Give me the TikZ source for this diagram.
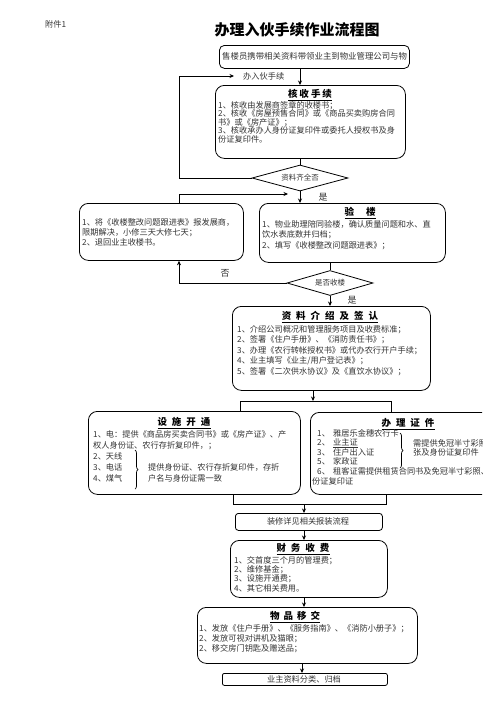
\documentclass[tikz,border=0pt]{standalone}
\usepackage{fontspec}
\setmainfont{Noto Sans CJK SC}
\usetikzlibrary{shapes.geometric,arrows.meta,decorations.pathreplacing}
\newcommand\gp[1]{\hspace{#1pt}}
\newcommand\nb[1]{\makebox[16pt][l]{#1}}
\begin{document}
\begin{tikzpicture}[x=1pt,y=-1pt,
  rbox/.style={draw, line width=0.8pt, rounded corners=9pt, inner sep=0pt, anchor=north west},
  sbox/.style={draw, line width=0.8pt, rounded corners=3pt, inner sep=0pt, anchor=north west},
  dia/.style={draw, diamond, line width=0.8pt, inner sep=0pt},
  txt/.style={font=\fontsize{8.2}{#1}\selectfont, align=left, anchor=north west, inner sep=0pt, text=black!80},
  ttl/.style={font=\fontsize{9.5}{10}\selectfont\bfseries, inner sep=0pt, anchor=center, text=black},
  lbl/.style={font=\fontsize{8.2}{9}\selectfont, inner sep=0pt, text=black!80},
  arr/.style={-{Stealth[length=4.5pt,width=4pt]}, line width=0.8pt},
  ln/.style={line width=0.8pt}]
\useasboundingbox (0,0) rectangle (496,702);
\fill[white] (0,0) rectangle (496,702);

% lanes
\coordinate (L1) at (300,0);
\coordinate (L2) at (330,0);
\coordinate (L3) at (313,0);
\coordinate (L4) at (304,0);
\coordinate (L5) at (302,0);
\coordinate (LL) at (179,0);
\coordinate (LA) at (240,0);
\coordinate (LB) at (391,0);
\coordinate (LC) at (233,0);
\coordinate (LD) at (386,0);
\coordinate (m1) at (288,194);
\coordinate (j1) at (313,401);
\coordinate (j2) at (304,504);

% header
\node[lbl, anchor=west] (fj) at (45,24) {附件1};
\node[font=\fontsize{15}{15}\selectfont\bfseries, inner sep=0pt] (title) at (297,30) {办理入伙手续作业流程图};

% box 1
\node[sbox, rounded corners=5pt, minimum width=190pt, minimum height=23pt] (b1) at (219,45) {};
\node[font=\fontsize{8.4}{9}\selectfont, inner sep=0pt, anchor=west, text=black!80] (t0) at (222,56) {售楼员携带相关资料带领业主到物业管理公司与物};
\node[lbl, anchor=west] (t1) at (243,76) {办入伙手续};

% box 2
\node[rbox, minimum width=190pt, minimum height=73pt] (b2) at (215,85) {};
\node[ttl] (b2t) at (310,95) {\underline{核\gp{2}收\gp{2}手\gp{2}续}};
\node[txt=8.5] (b2x) at (218,101) {1、核收由发展商签章的收楼书；\\
2、核收《房屋预售合同》或《商品买卖购房合同\\
书》或《房产证》；\\
3、核收承办人身份证复印件或委托人授权书及身\\
份证复印件。};

% diamond 1
\node[dia, minimum width=96pt, minimum height=26pt] (d1) at (300,178) {};
\node[font=\fontsize{7.5}{8}\selectfont, inner sep=0pt, text=black!80] (d1t) at (d1.center) {资料齐全否};

% left box
\node[rbox, minimum width=164pt, minimum height=57pt] (b3) at (79,203) {};
\node[txt=10] (b3x) at (82,218) {1、将《收楼整改问题跟进表》报发展商，\\
限期解决，小修三天大修七天；\\
2、退回业主收楼书。};

% right box 验楼
\node[rbox, minimum width=186pt, minimum height=59pt] (b4) at (259,203) {};
\node[ttl] (b4t) at (360,213) {\underline{验\gp{12}楼}};
\node[txt=10.5] (b4x) at (262,220) {1、物业助理陪同验楼，确认质量问题和水、直\\
饮水表底数并归档；\\
2、填写《收楼整改问题跟进表》；};

% diamond 2
\node[dia, minimum width=86pt, minimum height=25pt] (d2) at (330,283) {};
\node[font=\fontsize{7.5}{8}\selectfont, inner sep=0pt, text=black!80] (d2t) at (d2.center) {是否收楼};

% labels
\node[font=\fontsize{9}{9}\selectfont, inner sep=0pt, text=black!80] (y1) at (323,197) {是};
\node[font=\fontsize{9}{9}\selectfont, inner sep=0pt, text=black!80] (n1) at (225,273) {否};
\node[font=\fontsize{9}{9}\selectfont, inner sep=0pt, text=black!80] (y2) at (352,300) {是};

% box 资料介绍
\node[rbox, minimum width=198pt, minimum height=84pt] (b5) at (232,306) {};
\node[ttl] (b5t) at (330,317) {\underline{资\gp{5}料\gp{5}介\gp{5}绍\gp{5}及\gp{5}签\gp{5}认}};
\node[txt=10.5] (b5x) at (237,325) {1、介绍公司概况和管理服务项目及收费标准；\\
2、签署《住户手册》、《消防责任书》；\\
3、办理《农行转帐授权书》或代办农行开户手续；\\
4、业主填写《业主/用户登记表》；\\
5、签署《二次供水协议》及《直饮水协议》；};

% box 设施开通
\node[rbox, minimum width=212pt, minimum height=83pt] (b6) at (88,411) {};
\node[ttl] (b6t) at (184,423) {\underline{设\gp{5}施\gp{5}开\gp{5}通}};
\node[txt=11] (b6x) at (93,430) {1、电：提供《商品房买卖合同书》或《房产证》、产\\
权人身份证、农行存折复印件，；\\
2、天线\\
3、电话\\
4、煤气};
\draw[ln, line width=0.7pt, decorate, decoration={brace, amplitude=3pt}] (135,450) -- (135,489);
\node[txt=11] (b6y) at (148,463) {提供身份证、农行存折复印件，存折\\
户名与身份证需一致};

% box 办理证件 (cut off at the right, as in the reference)
\begin{scope}
\clip (0,0) rectangle (482,702);
\node[rbox, minimum width=210pt, minimum height=82pt] (b7) at (310,412) {};
\node[ttl] (b7t) at (408,424) {\underline{办\gp{5}理\gp{5}证\gp{5}件}};
\node[txt=9.6] (b7x) at (317,429) {\nb{1、}雅居乐金穗农行卡\\
\nb{2、}\underline{业主证}\\
\nb{3、}住户出入证\\
\nb{5、}家政证\\
\nb{6、}租客证需提供租赁合同书及免冠半寸彩照、身\\
\hspace*{-5pt}份证复印证};
\draw[ln, line width=0.7pt, decorate, decoration={brace, amplitude=3pt}] (400,433) -- (400,468);
\node[txt=9.6] (b7y) at (413,439) {需提供免冠半寸彩照\\
张及身份证复印件};
\end{scope}

% box 装修
\node[sbox, minimum width=147pt, minimum height=17pt] (b8) at (235,513) {};
\node[lbl] (b8t) at (308,521.5) {装修详见相关报装流程};

% box 财务收费
\node[rbox, minimum width=157pt, minimum height=57pt] (b9) at (230,540) {};
\node[ttl] (b9t) at (303,549) {\underline{财\gp{5}务\gp{5}收\gp{5}费}};
\node[txt=9.3] (b9x) at (234,556) {1、交首度三个月的管理费；\\
2、维修基金；\\
3、设施开通费；\\
4、其它相关费用。};

% box 物品移交
\node[rbox, minimum width=220pt, minimum height=56pt] (b10) at (197,607) {};
\node[ttl] (b10t) at (295,617) {\underline{物\gp{4}品\gp{4}移\gp{4}交}};
\node[txt=10] (b10x) at (199,624) {1、发放《住户手册》、《服务指南》、《消防小册子》；\\
2、发放可视对讲机及猫眼；\\
2、移交房门钥匙及赠送品；};

% final box
\node[sbox, rounded corners=2pt, minimum width=165pt, minimum height=12pt] (b11) at (222,673) {};
\node[lbl] (b11t) at (304,679) {业主资料分类、归档};

% connectors
\draw[arr] (b1.south -| L1) -- (b2.north -| L1);
\draw[ln] (b2.south -| L1) -- (d1.north);
\draw[arr] (d1.south) -- (b4.north -| L1);
\draw[arr] (d1.west) -| (t1.west -| LL) -- ([xshift=-9pt]t1.west);
\draw[arr] (b3.north -| LL) |- (m1);
\draw[ln] (b4.south -| L2) -- (d2.north);
\draw[arr] (d2.west) -| (b3.south -| LL);
\draw[arr] (d2.south) -- (b5.north -| L2);
\draw[arr] (b5.south -| L3) -- (j1);
\draw[ln] (b6.north -| LA) -- (LA |- j1) -- (LB |- j1) -- (b7.north -| LB);
\draw[ln] (b6.south -| LC) -- (LC |- j2) -- (LD |- j2) -- (b7.south -| LD);
\draw[arr] (j2) -- (b8.north -| j2);
\draw[arr] (b8.south -| L4) -- (b9.north -| L4);
\draw[arr] (b9.south -| L4) -- (b10.north -| L4);
\draw[arr] (b10.south -| L5) -- (b11.north -| L5);
\end{tikzpicture}
\end{document}
